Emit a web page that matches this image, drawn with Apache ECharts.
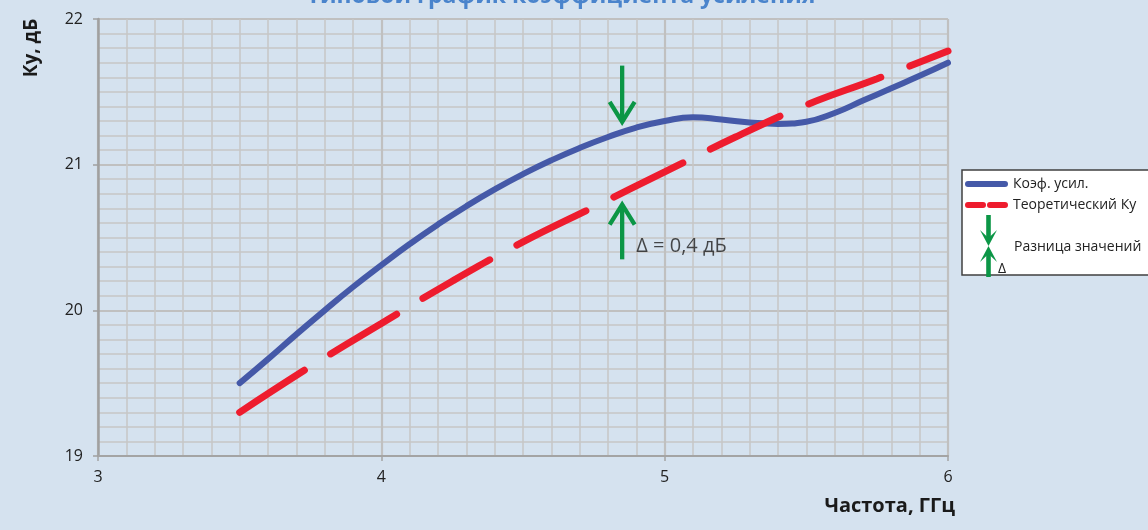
<!DOCTYPE html>
<html><head><meta charset="utf-8">
<script src="https://cdn.jsdelivr.net/npm/echarts@6/dist/echarts.min.js"></script>
<style>html,body{margin:0;padding:0;background:#d5e2ef}#c{width:1148px;height:530px}</style>
</head><body><div id="c"></div>
<script>
const titleText = 'Типовой график коэффициента усиления';
const xName = 'Частота, ГГц';
const yName = 'Ку, дБ';
const xTicks = [3, 4, 5, 6];
const yTicks = [19, 20, 21, 22];

const gainName = 'Коэф. усил.';
const gainFreq = [3.5,3.6,3.7,3.8,3.9,4.0,4.1,4.2,4.3,4.4,4.5,4.6,4.7,4.8,4.9,5.0,5.1,5.2,5.3,5.4,5.5,5.6,5.7,5.8,5.9,6.0];
const gainVals = [19.50,19.665,19.835,20.00,20.16,20.31,20.455,20.59,20.715,20.83,20.935,21.03,21.115,21.19,21.255,21.30,21.325,21.31,21.29,21.28,21.295,21.355,21.44,21.525,21.61,21.70];

const theoryName = 'Теоретический Ку';
const theoryFreq = [3.5,3.75,4.0,4.25,4.5,4.75,5.0,5.25,5.5,5.75,6.0];
const theoryVals = [19.30,19.615,19.91,20.20,20.47,20.71,20.95,21.19,21.41,21.59,21.78];

const deltaName = 'Разница значений';
const deltaSymbolText = 'Δ';
const deltaArrows = [[4.85, 21.68, 21.28], [4.85, 20.35, 20.74]]; // freq, from, to
const deltaLabelPos = [[4.9, 20.44]];
const deltaText = 'Δ = 0,4 дБ';

const BLUE = '#4559a8', RED = '#ee1c2e', GREEN = '#0b9646';
const FONT = 'Open Sans';

// legend icon for the arrows (local shapes)
const iconParts = [
  [[6.2,0],[10.8,0],[10.8,25],[6.2,25]],
  [[0,15],[8.5,23],[17,15],[8.5,31]],
  [[8.5,31],[17,47],[8.5,39],[0,47]],
  [[6.2,37],[10.8,37],[10.8,62],[6.2,62]]
];

const chart = echarts.init(document.getElementById('c'));
chart.setOption({
  animation: false,
  backgroundColor: '#d5e2ef',
  textStyle: { fontFamily: FONT },
  title: {
    text: titleText, left: 556, top: -20, textAlign: 'center',
    textStyle: { color: '#4a84cc', fontSize: 23, fontWeight: 'bold', fontFamily: FONT }
  },
  grid: { left: 98, right: 200, top: 19, bottom: 74, containLabel: false },
  xAxis: {
    type: 'value', min: xTicks[0], max: xTicks[xTicks.length - 1], interval: 1,
    name: xName, nameLocation: 'end', nameGap: 7,
    nameTextStyle: { align: 'right', verticalAlign: 'top', padding: [40, 0, 0, 0],
      fontSize: 20, fontWeight: 'bold', color: '#1a1a1a', fontFamily: FONT },
    axisLine: { show: true, lineStyle: { color: '#a4a4a4', width: 2 } },
    axisTick: { show: true, length: 5, lineStyle: { color: '#a4a4a4', width: 1.5 } },
    axisLabel: { margin: 13, fontSize: 16, color: '#222', fontFamily: FONT,
      formatter: v => xTicks.includes(v) ? String(v) : '' },
    splitLine: { show: true, lineStyle: { color: '#c0c0c0', width: 2.2 } },
    minorTick: { show: false, splitNumber: 10 },
    minorSplitLine: { show: true, lineStyle: { color: '#c6c6c6', width: 1.5 } }
  },
  yAxis: {
    type: 'value', min: yTicks[0], max: yTicks[yTicks.length - 1], interval: 1,
    axisLine: { show: true, lineStyle: { color: '#a0a0a0', width: 2.5 } },
    axisTick: { show: true, length: 5, lineStyle: { color: '#a0a0a0', width: 1.5 } },
    axisLabel: { margin: 15, fontSize: 16, color: '#222', fontFamily: FONT },
    splitLine: { show: true, lineStyle: { color: '#c0c0c0', width: 2.2 } },
    minorTick: { show: false, splitNumber: 10 },
    minorSplitLine: { show: true, lineStyle: { color: '#c6c6c6', width: 1.5 } }
  },
  legend: {
    orient: 'vertical', left: 965, top: 176.5, padding: 0, itemWidth: 43, itemHeight: 7, itemGap: 6,
    textStyle: { fontSize: 14, color: '#222', fontFamily: FONT, lineHeight: 15 },
    selectedMode: false,
    data: [
      { name: gainName, icon: 'path://M3,0 H40 A3,3 0 0 1 40,6 H3 A3,3 0 0 1 3,0 Z',
        itemStyle: { color: BLUE, borderWidth: 0 } },
      { name: theoryName, icon: 'path://M3,0 H18 A3,3 0 0 1 18,6 H3 A3,3 0 0 1 3,0 Z M25,0 H40 A3,3 0 0 1 40,6 H25 A3,3 0 0 1 25,0 Z',
        itemStyle: { color: RED, borderWidth: 0 } }
    ]
  },
  graphic: [
    { type: 'rect', z: -1, shape: { x: 962, y: 170, width: 200, height: 105 },
      style: { fill: '#ffffff', stroke: '#404040', lineWidth: 1.5 } },
    { type: 'group', x: 980, y: 215, z: 10,
      children: iconParts.map(pts => ({ type: 'polygon', shape: { points: pts }, style: { fill: GREEN } })) },
    { type: 'text', x: 1014, y: 247, z: 10,
      style: { text: deltaName, fontSize: 14, fill: '#222', fontFamily: FONT, align: 'left', verticalAlign: 'middle' } },
    { type: 'text', x: 1002, y: 269, z: 10,
      style: { text: deltaSymbolText, fontSize: 14, fill: '#222', fontFamily: FONT, align: 'center', verticalAlign: 'middle' } },
    { type: 'text', x: 32, y: 48, rotation: Math.PI / 2,
      style: { text: yName, fontSize: 19, fontWeight: 'bold', fill: '#1a1a1a', fontFamily: FONT,
        align: 'center', verticalAlign: 'middle' } }
  ],
  series: [
    {
      name: gainName, type: 'line', smooth: 0.5, showSymbol: false, symbol: 'none',
      color: BLUE,
      lineStyle: { color: BLUE, width: 6, cap: 'round', join: 'round' },
      data: gainFreq.map((f, i) => [f, gainVals[i]]), z: 3
    },
    {
      name: theoryName, type: 'line', smooth: 0.4, showSymbol: false, symbol: 'none',
      color: RED,
      lineStyle: { color: RED, width: 7, cap: 'round', type: [77, 31] },
      data: theoryFreq.map((f, i) => [f, theoryVals[i]]), z: 4
    },
    {
      name: deltaName, type: 'custom', color: GREEN, z: 5,
      encode: { x: 0, y: [1, 2] },
      data: deltaArrows,
      renderItem: function (params, api) {
        const p0 = api.coord([api.value(0), api.value(1)]);
        const p1 = api.coord([api.value(0), api.value(2)]);
        const dir = p1[1] > p0[1] ? 1 : -1;
        const tip = [p1[0], p1[1] - dir * 2];
        return {
          type: 'group',
          children: [
            { type: 'line', shape: { x1: p0[0], y1: p0[1], x2: tip[0], y2: tip[1] },
              style: { stroke: GREEN, lineWidth: 4.3 } },
            { type: 'polyline', shape: { points: [[tip[0] - 12.5, tip[1] - dir * 20], tip, [tip[0] + 12.5, tip[1] - dir * 20]] },
              style: { stroke: GREEN, lineWidth: 4.3, fill: 'none', lineJoin: 'miter' } }
          ]
        };
      }
    },
    {
      name: 'deltaLabel', type: 'scatter', symbolSize: 0, z: 6,
      data: deltaLabelPos,
      label: { show: true, position: 'inside', align: 'left', verticalAlign: 'middle',
        formatter: deltaText, fontSize: 20, color: '#1e1e1e', fontFamily: FONT }
    }
  ]
});
</script></body></html>
